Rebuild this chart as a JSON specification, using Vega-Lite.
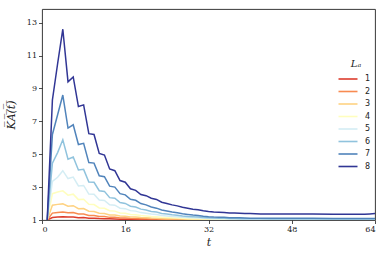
{
  "$schema": "https://vega.github.io/schema/vega-lite/v6.json",
  "width": 333,
  "height": 211,
  "autosize": {"type": "none"},
  "padding": {"left": 42, "top": 9, "right": 15, "bottom": 40},
  "background": "white",
  "config": {
    "view": {"stroke": "#222222", "strokeWidth": 0.9},
    "font": "DejaVu Serif",
    "axis": {
      "grid": false,
      "domain": false,
      "ticks": true,
      "tickSize": 3.5,
      "tickColor": "#222222",
      "tickWidth": 0.8,
      "labelFont": "DejaVu Serif",
      "labelFontSize": 8,
      "labelColor": "#222222",
      "labelPadding": 2,
      "titleFont": "DejaVu Serif",
      "titleFontSize": 11,
      "titleFontStyle": "italic",
      "titleFontWeight": "normal",
      "titleColor": "#222222"
    }
  },
  "data": {
    "values": [
      {"t": 1, "1": 1, "2": 1, "3": 1, "4": 1, "5": 1, "6": 1, "7": 1, "8": 1},
      {"t": 2, "1": 1.15, "2": 1.42, "3": 1.9, "4": 2.6, "5": 3.34, "6": 4.45, "7": 6.2, "8": 8.3},
      {"t": 3, "1": 1.18, "2": 1.46, "3": 1.95, "4": 2.7, "5": 3.6, "6": 5.1, "7": 7.4, "8": 10.5},
      {"t": 4, "1": 1.2, "2": 1.49, "3": 1.98, "4": 2.77, "5": 4.0, "6": 5.88, "7": 8.6, "8": 12.6},
      {"t": 5, "1": 1.18, "2": 1.44, "3": 1.84, "4": 2.51, "5": 3.52, "6": 4.7, "7": 6.59, "8": 9.4},
      {"t": 6, "1": 1.18, "2": 1.45, "3": 1.87, "4": 2.57, "5": 3.61, "6": 4.83, "7": 6.79, "8": 9.7},
      {"t": 7, "1": 1.14, "2": 1.36, "3": 1.69, "4": 2.24, "5": 3.07, "6": 4.04, "7": 5.59, "8": 7.9},
      {"t": 8, "1": 1.15, "2": 1.36, "3": 1.7, "4": 2.26, "5": 3.1, "6": 4.08, "7": 5.66, "8": 8.0},
      {"t": 9, "1": 1.11, "2": 1.27, "3": 1.53, "4": 1.95, "5": 2.58, "6": 3.31, "7": 4.49, "8": 6.25},
      {"t": 10, "1": 1.11, "2": 1.27, "3": 1.52, "4": 1.94, "5": 2.56, "6": 3.29, "7": 4.46, "8": 6.2},
      {"t": 11, "1": 1.09, "2": 1.21, "3": 1.41, "4": 1.73, "5": 2.22, "6": 2.78, "7": 3.69, "8": 5.05},
      {"t": 12, "1": 1.08, "2": 1.21, "3": 1.4, "4": 1.71, "5": 2.19, "6": 2.74, "7": 3.63, "8": 4.95},
      {"t": 13, "1": 1.07, "2": 1.16, "3": 1.31, "4": 1.56, "5": 1.93, "6": 2.36, "7": 3.06, "8": 4.1},
      {"t": 14, "1": 1.06, "2": 1.16, "3": 1.3, "4": 1.54, "5": 1.9, "6": 2.32, "7": 3.0, "8": 4.0},
      {"t": 15, "1": 1.05, "2": 1.12, "3": 1.24, "4": 1.43, "5": 1.72, "6": 2.06, "7": 2.6, "8": 3.4},
      {"t": 16, "1": 1.05, "2": 1.12, "3": 1.23, "4": 1.41, "5": 1.69, "6": 2.01, "7": 2.53, "8": 3.3},
      {"t": 17, "1": 1.04, "2": 1.1, "3": 1.19, "4": 1.34, "5": 1.57, "6": 1.84, "7": 2.26, "8": 2.9},
      {"t": 18, "1": 1.04, "2": 1.09, "3": 1.18, "4": 1.32, "5": 1.54, "6": 1.79, "7": 2.2, "8": 2.8},
      {"t": 19, "1": 1.03, "2": 1.08, "3": 1.15, "4": 1.27, "5": 1.45, "6": 1.66, "7": 2.0, "8": 2.55},
      {"t": 20, "1": 1.03, "2": 1.07, "3": 1.14, "4": 1.25, "5": 1.41, "6": 1.61, "7": 1.92, "8": 2.48},
      {"t": 21, "1": 1.02, "2": 1.06, "3": 1.12, "4": 1.21, "5": 1.36, "6": 1.52, "7": 1.79, "8": 2.32},
      {"t": 22, "1": 1.02, "2": 1.06, "3": 1.11, "4": 1.2, "5": 1.33, "6": 1.48, "7": 1.72, "8": 2.25},
      {"t": 23, "1": 1.02, "2": 1.05, "3": 1.09, "4": 1.16, "5": 1.27, "6": 1.4, "7": 1.61, "8": 2.08},
      {"t": 24, "1": 1.02, "2": 1.04, "3": 1.08, "4": 1.15, "5": 1.25, "6": 1.36, "7": 1.55, "8": 2.0},
      {"t": 25, "1": 1.01, "2": 1.04, "3": 1.07, "4": 1.13, "5": 1.22, "6": 1.32, "7": 1.49, "8": 1.92},
      {"t": 26, "1": 1.01, "2": 1.03, "3": 1.07, "4": 1.12, "5": 1.2, "6": 1.29, "7": 1.44, "8": 1.86},
      {"t": 27, "1": 1.01, "2": 1.03, "3": 1.06, "4": 1.1, "5": 1.17, "6": 1.25, "7": 1.38, "8": 1.77},
      {"t": 28, "1": 1.01, "2": 1.03, "3": 1.05, "4": 1.09, "5": 1.15, "6": 1.22, "7": 1.34, "8": 1.72},
      {"t": 29, "1": 1.01, "2": 1.02, "3": 1.04, "4": 1.08, "5": 1.13, "6": 1.2, "7": 1.3, "8": 1.66},
      {"t": 30, "1": 1.01, "2": 1.02, "3": 1.04, "4": 1.07, "5": 1.12, "6": 1.18, "7": 1.27, "8": 1.62},
      {"t": 31, "1": 1.01, "2": 1.02, "3": 1.03, "4": 1.06, "5": 1.1, "6": 1.15, "7": 1.23, "8": 1.56},
      {"t": 32, "1": 1.01, "2": 1.02, "3": 1.03, "4": 1.06, "5": 1.09, "6": 1.14, "7": 1.2, "8": 1.52},
      {"t": 33, "1": 1.01, "2": 1.02, "3": 1.03, "4": 1.05, "5": 1.08, "6": 1.12, "7": 1.18, "8": 1.49},
      {"t": 34, "1": 1.01, "2": 1.02, "3": 1.03, "4": 1.05, "5": 1.08, "6": 1.11, "7": 1.17, "8": 1.47},
      {"t": 35, "1": 1.01, "2": 1.02, "3": 1.02, "4": 1.04, "5": 1.07, "6": 1.1, "7": 1.16, "8": 1.45},
      {"t": 36, "1": 1.01, "2": 1.01, "3": 1.02, "4": 1.04, "5": 1.06, "6": 1.09, "7": 1.14, "8": 1.43},
      {"t": 37, "1": 1.01, "2": 1.01, "3": 1.02, "4": 1.03, "5": 1.06, "6": 1.09, "7": 1.13, "8": 1.42},
      {"t": 38, "1": 1.01, "2": 1.01, "3": 1.02, "4": 1.03, "5": 1.06, "6": 1.08, "7": 1.13, "8": 1.41},
      {"t": 39, "1": 1.01, "2": 1.01, "3": 1.02, "4": 1.03, "5": 1.05, "6": 1.08, "7": 1.12, "8": 1.4},
      {"t": 40, "1": 1.01, "2": 1.01, "3": 1.02, "4": 1.03, "5": 1.05, "6": 1.07, "7": 1.11, "8": 1.39},
      {"t": 42, "1": 1.01, "2": 1.01, "3": 1.02, "4": 1.03, "5": 1.05, "6": 1.07, "7": 1.1, "8": 1.37},
      {"t": 44, "1": 1.01, "2": 1.01, "3": 1.01, "4": 1.03, "5": 1.04, "6": 1.06, "7": 1.1, "8": 1.36},
      {"t": 48, "1": 1.01, "2": 1.01, "3": 1.01, "4": 1.03, "5": 1.04, "6": 1.06, "7": 1.1, "8": 1.36},
      {"t": 52, "1": 1.01, "2": 1.01, "3": 1.01, "4": 1.03, "5": 1.04, "6": 1.06, "7": 1.1, "8": 1.36},
      {"t": 56, "1": 1.01, "2": 1.01, "3": 1.01, "4": 1.03, "5": 1.04, "6": 1.06, "7": 1.09, "8": 1.35},
      {"t": 60, "1": 1.01, "2": 1.01, "3": 1.01, "4": 1.03, "5": 1.04, "6": 1.06, "7": 1.09, "8": 1.35},
      {"t": 62, "1": 1.01, "2": 1.01, "3": 1.01, "4": 1.03, "5": 1.04, "6": 1.06, "7": 1.09, "8": 1.35},
      {"t": 63, "1": 1.01, "2": 1.01, "3": 1.01, "4": 1.03, "5": 1.04, "6": 1.06, "7": 1.09, "8": 1.37},
      {"t": 64, "1": 1.01, "2": 1.01, "3": 1.01, "4": 1.03, "5": 1.04, "6": 1.06, "7": 1.09, "8": 1.39}
    ]
  },
  "transform": [
    {"fold": ["1", "2", "3", "4", "5", "6", "7", "8"], "as": ["LA", "value"]}
  ],
  "mark": {"type": "line", "strokeWidth": 1.5, "clip": true},
  "encoding": {
    "x": {
      "field": "t",
      "type": "quantitative",
      "scale": {"domain": [0, 64], "nice": false, "zero": false},
      "axis": {"values": [0, 16, 32, 48, 64], "title": "t", "titlePadding": 3}
    },
    "y": {
      "field": "value",
      "type": "quantitative",
      "scale": {"domain": [1, 13.83], "nice": false, "zero": false},
      "axis": {"values": [1, 3, 5, 7, 9, 11, 13], "title": "K̅A̅(̅t̅)̅", "titlePadding": 10}
    },
    "color": {
      "field": "LA",
      "type": "nominal",
      "scale": {
        "domain": ["1", "2", "3", "4", "5", "6", "7", "8"],
        "range": ["#dd3c2d", "#f88b51", "#fed282", "#fffebe", "#d4edf4", "#90c3dd", "#5184bb", "#313695"]
      },
      "legend": {
        "title": "Lₐ",
        "orient": "none",
        "legendX": 300,
        "legendY": 50,
        "titleFont": "DejaVu Serif",
        "titleFontStyle": "italic",
        "titleFontWeight": "normal",
        "titleFontSize": 10,
        "titleAnchor": "middle",
        "titleColor": "#222222",
        "titlePadding": 4,
        "symbolType": "M-1.9,0H1.9",
        "symbolSize": 100,
        "symbolStrokeWidth": 1.6,
        "labelFont": "DejaVu Sans",
        "labelFontSize": 8,
        "labelColor": "#222222",
        "labelOffset": 11,
        "rowPadding": 2.5
      }
    }
  }
}
